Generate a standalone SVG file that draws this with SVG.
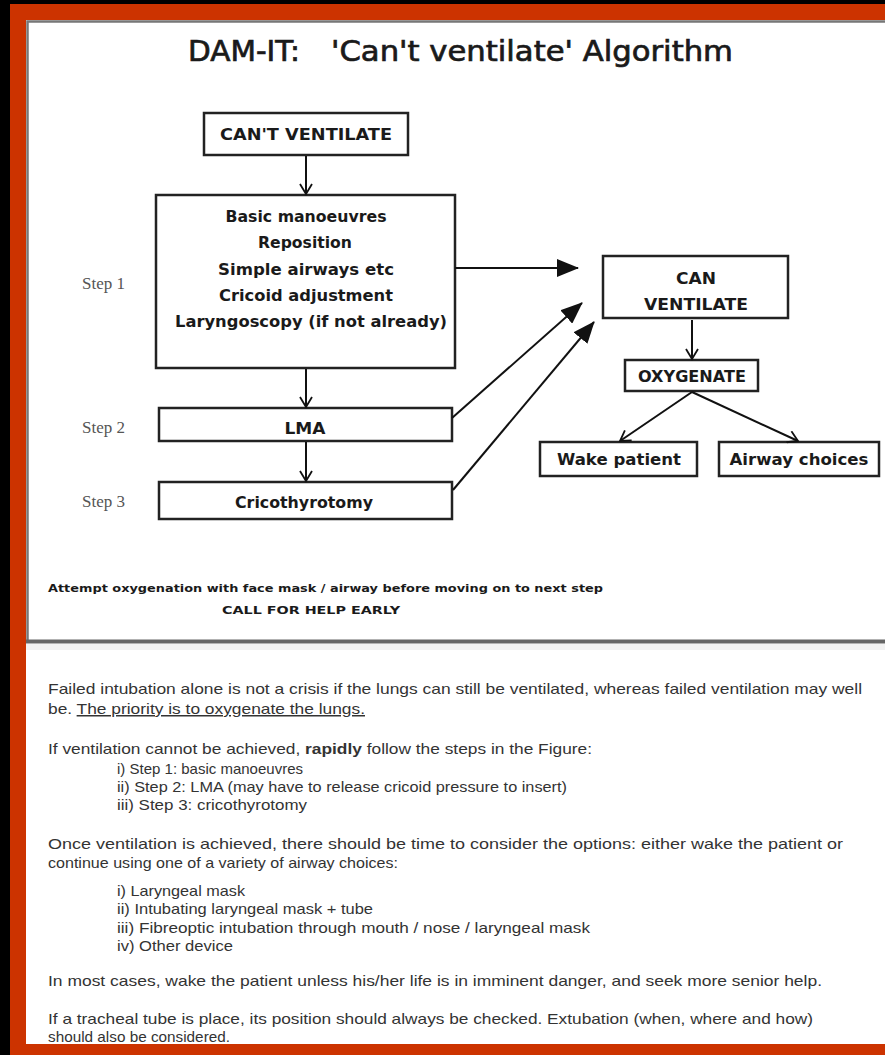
<svg xmlns="http://www.w3.org/2000/svg" width="885" height="1055" viewBox="0 0 885 1055">
<defs>
<style>
.frame{fill:#cc3300}
.box{fill:#fff;stroke:#222;stroke-width:2.5}
.comic{font-family:"Comic Sans MS","DejaVu Sans",sans-serif;fill:#1a1a1a}
.bt{font-size:15px;text-anchor:middle;font-weight:bold}
.step{font-family:"Liberation Serif","Times New Roman",serif;font-size:17px;fill:#555}
.body{font-family:"Liberation Sans",Arial,sans-serif;font-size:15px;fill:#333}
.con{stroke:#111;stroke-width:2;fill:none}
</style>
<marker id="open" markerUnits="userSpaceOnUse" markerWidth="14" markerHeight="14" viewBox="0 0 14 14" refX="12" refY="7" orient="auto">
<path d="M2,1 L12,7 L2,13" fill="none" stroke="#111" stroke-width="1.8"/>
</marker>
<marker id="filled" markerUnits="userSpaceOnUse" markerWidth="22" markerHeight="18" viewBox="0 0 22 18" refX="21" refY="9" orient="auto">
<path d="M0,0 L22,9 L0,18 z" fill="#111"/>
</marker>
</defs>
<rect x="0" y="0" width="885" height="1055" fill="#000"/>
<rect class="frame" x="10" y="4" width="875" height="1051"/>
<rect x="26" y="20" width="859" height="1024" fill="#fff"/>
<path d="M27.5,641 L27.5,21.5 L885,21.5" fill="none" stroke="#777" stroke-width="2.5"/>
<line x1="26" y1="641.5" x2="885" y2="641.5" stroke="#666" stroke-width="4"/>
<rect x="26" y="644" width="859" height="6" fill="#f2f2f2"/>

<text class="comic" y="61" font-size="28" stroke="#1a1a1a" stroke-width="0.7"><tspan x="188" textLength="112" lengthAdjust="spacingAndGlyphs">DAM-IT:</tspan><tspan x="331" textLength="402" lengthAdjust="spacingAndGlyphs">'Can't ventilate' Algorithm</tspan></text>

<g id="steplabels">
<text class="step" x="82" y="289">Step 1</text>
<text class="step" x="82" y="433">Step 2</text>
<text class="step" x="82" y="507">Step 3</text>
</g>

<g id="cant-ventilate">
<rect class="box" x="204" y="113" width="204" height="42"/>
<text class="comic bt" x="306" y="140" textLength="172" lengthAdjust="spacingAndGlyphs">CAN'T VENTILATE</text>
</g>
<g id="step1">
<rect class="box" x="156" y="195" width="299" height="173"/>
<text class="comic bt" x="306" y="222" textLength="161" lengthAdjust="spacingAndGlyphs">Basic manoeuvres</text>
<text class="comic bt" x="305" y="248" textLength="94" lengthAdjust="spacingAndGlyphs">Reposition</text>
<text class="comic bt" x="306" y="275" textLength="176" lengthAdjust="spacingAndGlyphs">Simple airways etc</text>
<text class="comic bt" x="306" y="301" textLength="174" lengthAdjust="spacingAndGlyphs">Cricoid adjustment</text>
<text class="comic bt" x="311" y="327" textLength="272" lengthAdjust="spacingAndGlyphs">Laryngoscopy (if not already)</text>
</g>
<g id="lma">
<rect class="box" x="159" y="408" width="293" height="33"/>
<text class="comic bt" x="305" y="434" textLength="41" lengthAdjust="spacingAndGlyphs">LMA</text>
</g>
<g id="crico">
<rect class="box" x="159" y="482" width="293" height="37"/>
<text class="comic bt" x="304" y="508" textLength="138" lengthAdjust="spacingAndGlyphs">Cricothyrotomy</text>
</g>
<g id="can-ventilate">
<rect class="box" x="603" y="256" width="185" height="62"/>
<text class="comic bt" x="696" y="284" textLength="40" lengthAdjust="spacingAndGlyphs">CAN</text>
<text class="comic bt" x="696" y="310" textLength="104" lengthAdjust="spacingAndGlyphs">VENTILATE</text>
</g>
<g id="oxygenate">
<rect class="box" x="625" y="360" width="133" height="31"/>
<text class="comic bt" x="692" y="382" textLength="108" lengthAdjust="spacingAndGlyphs">OXYGENATE</text>
</g>
<g id="wake">
<rect class="box" x="540" y="442" width="157" height="34"/>
<text class="comic bt" x="619" y="465" textLength="124" lengthAdjust="spacingAndGlyphs">Wake patient</text>
</g>
<g id="airway">
<rect class="box" x="719" y="442" width="160" height="34"/>
<text class="comic bt" x="799" y="465" textLength="139" lengthAdjust="spacingAndGlyphs">Airway choices</text>
</g>

<g id="connectors">
<line class="con" x1="306" y1="156" x2="306" y2="194" marker-end="url(#open)"/>
<line class="con" x1="306" y1="369" x2="306" y2="407" marker-end="url(#open)"/>
<line class="con" x1="306" y1="442" x2="306" y2="481" marker-end="url(#open)"/>
<line class="con" x1="692" y1="320" x2="692" y2="359" marker-end="url(#open)"/>
<line class="con" x1="692" y1="392" x2="620" y2="441" marker-end="url(#open)"/>
<line class="con" x1="692" y1="392" x2="798" y2="441" marker-end="url(#open)"/>
<line class="con" x1="455" y1="268" x2="578" y2="268" stroke-width="2.5" marker-end="url(#filled)"/>
<line class="con" x1="452" y1="418" x2="582" y2="303" stroke-width="2.5" marker-end="url(#filled)"/>
<line class="con" x1="453" y1="490" x2="594" y2="322" stroke-width="2.5" marker-end="url(#filled)"/>
</g>

<g id="notes">
<text class="comic" x="48" y="592" font-size="11" font-weight="bold" textLength="555" lengthAdjust="spacingAndGlyphs">Attempt oxygenation with face mask / airway before moving on to next step</text>
<text class="comic" x="222" y="614" font-size="11" font-weight="bold" textLength="178" lengthAdjust="spacingAndGlyphs">CALL FOR HELP EARLY</text>
</g>

<g id="bodytext">
<text class="body" x="48" y="694" textLength="814" lengthAdjust="spacingAndGlyphs">Failed intubation alone is not a crisis if the lungs can still be ventilated, whereas failed ventilation may well</text>
<text class="body" x="48" y="714" textLength="317" lengthAdjust="spacingAndGlyphs">be. <tspan text-decoration="underline">The priority is to oxygenate the lungs.</tspan></text>
<text class="body" x="48" y="754" textLength="544" lengthAdjust="spacingAndGlyphs">If ventilation cannot be achieved, <tspan font-weight="bold">rapidly</tspan> follow the steps in the Figure:</text>
<text class="body" x="117" y="774" textLength="186" lengthAdjust="spacingAndGlyphs">i) Step 1: basic manoeuvres</text>
<text class="body" x="117" y="792" textLength="450" lengthAdjust="spacingAndGlyphs">ii) Step 2: LMA (may have to release cricoid pressure to insert)</text>
<text class="body" x="117" y="810" textLength="190" lengthAdjust="spacingAndGlyphs">iii) Step 3: cricothyrotomy</text>
<text class="body" x="48" y="849" textLength="795" lengthAdjust="spacingAndGlyphs">Once ventilation is achieved, there should be time to consider the options: either wake the patient or</text>
<text class="body" x="48" y="868" textLength="350" lengthAdjust="spacingAndGlyphs">continue using one of a variety of airway choices:</text>
<text class="body" x="117" y="896" textLength="128" lengthAdjust="spacingAndGlyphs">i) Laryngeal mask</text>
<text class="body" x="117" y="914" textLength="256" lengthAdjust="spacingAndGlyphs">ii) Intubating laryngeal mask + tube</text>
<text class="body" x="117" y="933" textLength="473" lengthAdjust="spacingAndGlyphs">iii) Fibreoptic intubation through mouth / nose / laryngeal mask</text>
<text class="body" x="117" y="951" textLength="116" lengthAdjust="spacingAndGlyphs">iv) Other device</text>
<text class="body" x="48" y="986" textLength="774" lengthAdjust="spacingAndGlyphs">In most cases, wake the patient unless his/her life is in imminent danger, and seek more senior help.</text>
<text class="body" x="48" y="1024" textLength="765" lengthAdjust="spacingAndGlyphs">If a tracheal tube is place, its position should always be checked. Extubation (when, where and how)</text>
<text class="body" x="48" y="1042" textLength="182" lengthAdjust="spacingAndGlyphs">should also be considered.</text>
</g>
<rect class="frame" x="10" y="1044" width="875" height="11"/>
</svg>
